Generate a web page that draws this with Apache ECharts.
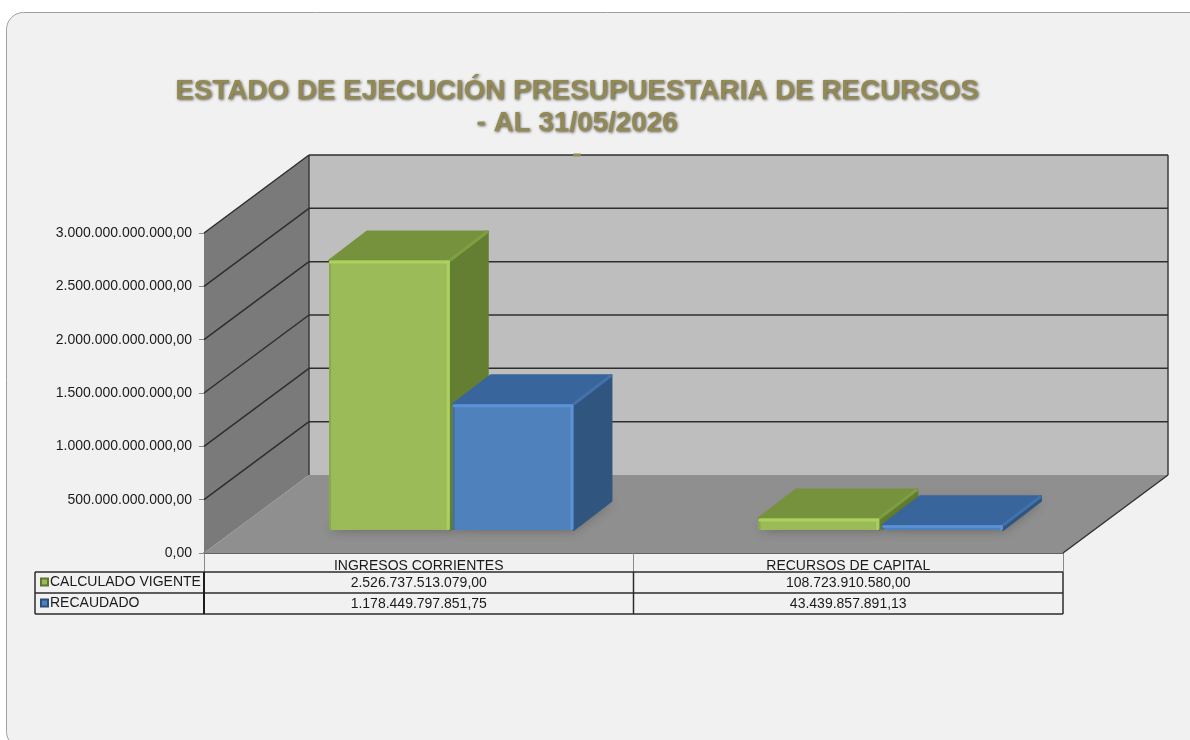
<!DOCTYPE html>
<html>
<head>
<meta charset="utf-8">
<title>Estado de ejecución presupuestaria</title>
<style>
  html, body { margin: 0; padding: 0; background: #fff; }
  #chart { width: 1190px; height: 740px; }
</style>
<script src="https://cdn.jsdelivr.net/npm/echarts@6/dist/echarts.min.js"></script>
</head>
<body>
<div id="chart"></div>
<script>
const categories = ['INGRESOS CORRIENTES', 'RECURSOS DE CAPITAL']
const calculadoVigente = [2526737513079.00, 108723910580.00]
const recaudado = [1178449797851.75, 43439857891.13]
const yTicks = [0, 500000000000, 1000000000000, 1500000000000, 2000000000000, 2500000000000, 3000000000000]

// 3D look: how far the back wall sits from the front edge of the floor
const WALL_DX = 105
const WALL_DY = 78
const BAR_INSET_DX = 31
const BAR_INSET_DY = 23
const BAR_DEPTH_DX = 38
const BAR_DEPTH_DY = 29
const TABLE_LEFT = 35
const FONT = '"Liberation Sans", Arial, sans-serif'

const GREEN = { front: '#9bbb59', top: '#76923c', side: '#647f31', edge: '#7f9f43', light: '#abd160', dark: '#89a84c' }
const BLUE = { front: '#4f81bd', top: '#38659b', side: '#30557f', edge: '#4272aa', light: '#5b92d6', dark: '#43719f' }

function formatMoney(n) {
  const parts = n.toFixed(2).split('.')
  return parts[0].replace(/\B(?=(\d{3})+$)/g, '.') + ',' + parts[1]
}

function line(x1, y1, x2, y2, color, width) {
  return { type: 'line', shape: { x1, y1, x2, y2 }, style: { stroke: color, lineWidth: width } }
}

function poly(points, fill, extra) {
  return { type: 'polygon', shape: { points }, style: Object.assign({ fill }, extra || {}) }
}

function renderFrame(params, api) {
  const v = api.value(0)
  const first = api.coord([0, v])
  const band = api.size([1, 0])[0]
  const left = first[0] - band / 2
  const right = first[0] + band * 1.5
  const mid = first[0] + band / 2
  const y = first[1]
  const children = []

  if (params.dataIndex === 0) {
    const top = api.coord([0, yTicks[yTicks.length - 1]])[1]
    children.push(poly([[left + WALL_DX, top - WALL_DY], [right + WALL_DX, top - WALL_DY], [right + WALL_DX, y - WALL_DY], [left + WALL_DX, y - WALL_DY]], '#bebebe'))
    children.push(poly([[left, top], [left + WALL_DX, top - WALL_DY], [left + WALL_DX, y - WALL_DY], [left, y]], '#7a7a7a'))
    children.push(poly([[left, y], [left + WALL_DX, y - WALL_DY], [right + WALL_DX, y - WALL_DY], [right, y]], '#8f8f8f'))
    // outline of the box
    children.push(line(left + WALL_DX, top - WALL_DY, left + WALL_DX, y - WALL_DY, '#3c3c3c', 1.5))
    children.push(line(right + WALL_DX, top - WALL_DY, right + WALL_DX, y - WALL_DY, '#3c3c3c', 1.5))
    children.push(line(right, y, right + WALL_DX, y - WALL_DY, '#333', 1.5))
    // data table under the floor
    const rows = [y + 19, y + 40, y + 61]
    rows.forEach(function (r) { children.push(line(TABLE_LEFT, r, right, r, '#2b2b2b', 1.5)) })
    children.push(line(TABLE_LEFT, rows[0], TABLE_LEFT, rows[2], '#2b2b2b', 1.5))
    children.push(line(left, rows[0], left, rows[2], '#1c1c1c', 2))
    children.push(line(mid, rows[0], mid, rows[2], '#2b2b2b', 1.5))
    children.push(line(right, rows[0], right, rows[2], '#2b2b2b', 1.5))
  } else {
    children.push(line(left, y, left + WALL_DX, y - WALL_DY, '#2e2e2e', 1.5))
    children.push(line(left + WALL_DX, y - WALL_DY, right + WALL_DX, y - WALL_DY, '#2e2e2e', 1.5))
  }
  return { type: 'group', children }
}

function barRenderer(colors, seriesPos) {
  return function (params, api) {
    const base = api.coord([api.value(0), 0])
    const top = api.coord([api.value(0), api.value(1)])
    const band = api.size([1, 0])[0]
    const w = band * 0.281
    const b = base[1] - BAR_INSET_DY
    const t = top[1] - BAR_INSET_DY
    const cx = base[0] + BAR_INSET_DX
    const l = seriesPos === 0 ? cx - w : cx + 3
    const r = l + w
    const dx = BAR_DEPTH_DX
    const dy = BAR_DEPTH_DY
    const h = b - t
    const strip = Math.min(3, h / 2)

    return {
      type: 'group',
      children: [
        // soft shadow on the floor
        poly([[l, b], [r, b], [r + dx, b - dy], [l + dx, b - dy]], 'rgba(40,40,40,0.55)', { shadowBlur: 12, shadowColor: 'rgba(0,0,0,0.55)' }),
        poly([[r, t], [r + dx, t - dy], [r + dx, b - dy], [r, b]], colors.side, { stroke: colors.side, lineWidth: 2, lineJoin: 'round' }),
        poly([[l, t], [r, t], [r + dx, t - dy], [l + dx, t - dy]], colors.top, { stroke: colors.top, lineWidth: 2, lineJoin: 'round' }),
        line(r, t, r + dx, t - dy, colors.edge, 3),
        { type: 'rect', shape: { x: l, y: t, width: w, height: h, r: 2 }, style: { fill: colors.front } },
        { type: 'rect', shape: { x: l, y: t + 1, width: 2, height: h - 1 }, style: { fill: colors.dark } },
        { type: 'rect', shape: { x: l, y: t, width: w, height: strip, r: 1 }, style: { fill: colors.light } },
        { type: 'rect', shape: { x: r - 3, y: t, width: 3, height: h, r: 1 }, style: { fill: colors.light } },
        // value cell of the data table
        {
          type: 'text',
          style: {
            text: formatMoney(api.value(1)),
            x: base[0],
            y: base[1] + 30 + 21 * seriesPos,
            textAlign: 'center',
            textVerticalAlign: 'middle',
            font: '14px ' + FONT,
            fill: '#1a1a1a'
          }
        }
      ]
    }
  }
}

const chart = echarts.init(document.getElementById('chart'), null, { renderer: 'canvas' })

chart.setOption({
  animation: false,
  textStyle: { fontFamily: FONT },
  title: {
    text: 'ESTADO DE EJECUCIÓN PRESUPUESTARIA DE RECURSOS\n- AL 31/05/2026',
    left: 572,
    top: 70,
    textAlign: 'center',
    textStyle: {
      fontFamily: FONT,
      fontSize: 27.8,
      fontWeight: 'bold',
      lineHeight: 32,
      color: '#938953',
      textShadowColor: 'rgba(0,0,0,0.65)',
      textShadowBlur: 3,
      textShadowOffsetX: 1,
      textShadowOffsetY: 1
    }
  },
  legend: {
    data: ['CALCULADO VIGENTE', 'RECAUDADO'],
    orient: 'vertical',
    left: 36,
    top: 574,
    itemWidth: 7,
    itemHeight: 7,
    itemGap: 5,
    icon: 'rect',
    selectedMode: false,
    padding: [0, 0, 0, 4],
    textStyle: { fontFamily: FONT, fontSize: 14, color: '#1a1a1a', lineHeight: 16, padding: [0, 0, 0, -3] }
  },
  grid: { left: 204, right: 127, top: 233, bottom: 187 },
  xAxis: {
    type: 'category',
    data: categories,
    axisLine: { show: true, lineStyle: { color: '#333', width: 1.5 } },
    axisTick: { show: true, length: 19, lineStyle: { color: '#8a8a8a', width: 1 } },
    axisLabel: { fontFamily: FONT, fontSize: 14, color: '#1a1a1a', margin: 6, interval: 0 }
  },
  yAxis: {
    type: 'value',
    min: 0,
    max: 3000000000000,
    interval: 500000000000,
    axisLine: { show: true, lineStyle: { color: '#8a8a8a', width: 1 } },
    axisTick: { show: true, length: 5, lineStyle: { color: '#8a8a8a', width: 1 } },
    splitLine: { show: false },
    axisLabel: { fontFamily: FONT, fontSize: 14, color: '#1a1a1a', margin: 12, padding: [3, 0, 0, 0], formatter: formatMoney }
  },
  graphic: [
    {
      type: 'rect',
      z: -10,
      shape: { x: 6.5, y: 12.5, width: 1300, height: 736, r: 17 },
      style: { fill: '#f1f1f1', stroke: '#a0a0a0', lineWidth: 1 }
    },
    {
      type: 'rect',
      z: 20,
      shape: { x: 573, y: 153.5, width: 8, height: 3, r: 1 },
      style: { fill: '#938953' }
    }
  ],
  series: [
    {
      name: 'frame',
      type: 'custom',
      z: 1,
      silent: true,
      renderItem: renderFrame,
      encode: { y: 0 },
      data: yTicks.map(function (v) { return [v] })
    },
    {
      name: 'CALCULADO VIGENTE',
      type: 'custom',
      z: 2,
      silent: true,
      renderItem: barRenderer(GREEN, 0),
      encode: { x: 0, y: 1 },
      itemStyle: { color: '#9bbb59', borderColor: '#5f7530', borderWidth: 1 },
      data: calculadoVigente.map(function (v, i) { return [i, v] })
    },
    {
      name: 'RECAUDADO',
      type: 'custom',
      z: 3,
      silent: true,
      renderItem: barRenderer(BLUE, 1),
      encode: { x: 0, y: 1 },
      itemStyle: { color: '#4f81bd', borderColor: '#2c4f7a', borderWidth: 1 },
      data: recaudado.map(function (v, i) { return [i, v] })
    }
  ]
})
</script>
</body>
</html>
